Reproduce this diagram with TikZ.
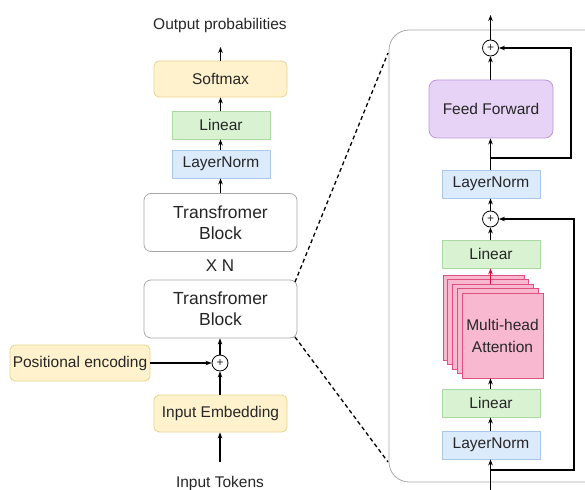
\documentclass[tikz,border=0pt]{standalone}
\usepackage{fontspec}
\setmainfont{Liberation Sans}
\usetikzlibrary{arrows.meta,calc}
\definecolor{yfill}{HTML}{FFF2CC}
\definecolor{ydraw}{HTML}{EAD38E}
\definecolor{gfill}{HTML}{D8F2D2}
\definecolor{gdraw}{HTML}{ABD9A2}
\definecolor{bfill}{HTML}{DCEBFC}
\definecolor{bdraw}{HTML}{A9C8EA}
\definecolor{pfill}{HTML}{E7D3F5}
\definecolor{pdraw}{HTML}{BC96DA}
\definecolor{mfill}{HTML}{F8B9D0}
\definecolor{mdraw}{HTML}{E0507C}
\definecolor{redarrow}{HTML}{D0103A}
\definecolor{wdraw}{HTML}{A8A8A8}
\tikzset{
  x=1pt, y=-1pt,
  every node/.style={font=\fontsize{15.5}{20}\selectfont, align=center, text=black!85},
  base/.style={draw, line width=0.8pt, inner sep=0pt},
  ybox/.style={base, fill=yfill, draw=ydraw, rounded corners=5pt},
  gbox/.style={base, fill=gfill, draw=gdraw},
  bbox/.style={base, fill=bfill, draw=bdraw},
  wbox/.style={base, fill=white, draw=wdraw, rounded corners=7pt, minimum width=153pt, minimum height=58pt, font=\fontsize{17.5}{21}\selectfont},
  pbox/.style={base, fill=pfill, draw=pdraw, rounded corners=8pt},
  mcard/.style={base, fill=mfill, draw=mdraw, minimum width=81pt, minimum height=85pt, font=\fontsize{15.5}{22}\selectfont},
  plus/.style={circle, draw, line width=0.8pt, fill=white, minimum size=16pt, inner sep=0pt, font=\fontsize{12}{12}\selectfont},
  arr/.style={line width=1.3pt, -{Stealth[length=6pt,width=4.5pt]}},
  dash line/.style={line width=1.3pt, dash pattern=on 4pt off 3pt},
}
\begin{document}
\begin{tikzpicture}
\useasboundingbox (0,0) rectangle (585,489);
% right panel
\draw[line width=0.8pt, draw=wdraw, fill=white, rounded corners=20pt] (389,30) rectangle (605,482);

% left column
\node (outp) at (220,25) {Output probabilities};
\node[ybox, minimum width=133pt, minimum height=36pt] (softmax) at (220.5,79) {Softmax};
\node[gbox, minimum width=98pt, minimum height=28pt] (lin1) at (221,125) {Linear};
\node[bbox, minimum width=98pt, minimum height=28pt] (ln1) at (221,164) {LayerNorm};
\node[wbox] (tb1) at (220.5,222.5) {Transfromer\\Block};
\node[font=\fontsize{17}{20}\selectfont] (xn) at (220,266) {X N};
\node[wbox] (tb2) at (220.5,309) {Transfromer\\Block};
\node[plus] (plus1) at (220,363) {+};
\node[ybox, minimum width=140pt, minimum height=36pt] (pe) at (80,363) {Positional encoding};
\node[ybox, minimum width=133pt, minimum height=37pt] (ie) at (220.5,413.5) {Input Embedding};
\node (intok) at (220,483) {Input Tokens};
\coordinate (tokin) at (220,462);

\draw[arr] (softmax.north) -- (220.5,47);
\draw[arr] (lin1.north -| softmax.south) -- (softmax.south);
\draw[arr] (ln1.north -| softmax.south) -- (lin1.south -| softmax.south);
\draw[arr] (tb1.north) -- (ln1.south -| tb1.north);
\draw[arr] (plus1.north) -- (tb2.south -| plus1.north);
\draw[arr] (ie.north -| plus1.south) -- (plus1.south);
\draw[arr] (pe.east) -- (plus1.west);
\draw[arr] (tokin) -- (ie.south -| tokin);

% dashed zoom lines
\coordinate (d1) at (295,282);
\coordinate (d2) at (388,53);
\coordinate (d3) at (295,337);
\coordinate (d4) at (388,462);
\draw[dash line] (d1) -- (d2);
\draw[dash line] (d3) -- (d4);

% right column
\coordinate (topout) at (490.5,15);
\node[plus] (plusT) at (490.5,48) {+};
\node[pbox, minimum width=124pt, minimum height=58pt] (ff) at (491,109) {Feed Forward};
\node[bbox, minimum width=98pt, minimum height=28pt] (ln2) at (491,184) {LayerNorm};
\node[plus] (plus2) at (490.5,219) {+};
\node[gbox, minimum width=98pt, minimum height=28pt] (lin2) at (491,254) {Linear};
\foreach \i in {4,3,2,1} {
  \node[mcard] (card\i) at ({502.5-4.75*\i},{335.5-4.5*\i}) {};
}
\node[mcard] (mha) at (502.5,335.5) {Multi-head\\Attention};
\node[gbox, minimum width=98pt, minimum height=28pt] (lin3) at (491,403) {Linear};
\node[bbox, minimum width=98pt, minimum height=28pt] (ln3) at (491,445) {LayerNorm};
\coordinate (botin) at (490.5,492);
\coordinate (j1) at (490.5,470);
\coordinate (j2) at (490.5,158);
\coordinate (r1a) at (574,470);
\coordinate (r1b) at (574,219);
\coordinate (r2a) at (571,158);
\coordinate (r2b) at (571,48);
\coordinate (redstart) at (490.5,284);

\draw[arr] (plusT.north) -- (topout);
\draw[arr] (ff.north -| plusT.south) -- (plusT.south);
\draw[arr] (j2) -- (ff.south -| j2);
\draw[line width=1.3pt] (ln2.north -| j2) -- (j2);
\draw[arr] (plus2.north) -- (ln2.south -| plus2.north);
\draw[arr] (lin2.north -| plus2.south) -- (plus2.south);
\draw[arr, draw=redarrow, color=redarrow] (redstart) -- (lin2.south -| redstart);
\draw[arr] (lin3.north -| redstart) -- (mha.south -| redstart);
\draw[arr] (ln3.north -| redstart) -- (lin3.south -| redstart);
\draw[arr] (botin) -- (ln3.south -| botin);
\draw[arr] (j1) -- (r1a) -- (r1b) -- (plus2.east);
\draw[arr] (j2) -- (r2a) -- (r2b) -- (plusT.east);
\end{tikzpicture}
\end{document}
